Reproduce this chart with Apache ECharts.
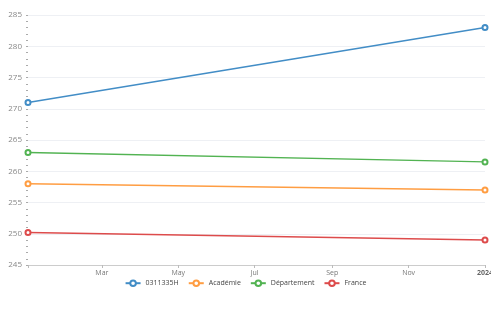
<!DOCTYPE html>
<html>
<head>
<meta charset="utf-8">
<script src="https://cdn.jsdelivr.net/npm/echarts@6/dist/echarts.min.js"></script>
<style>
  html, body { margin: 0; padding: 0; background: #fff; }
  #chart { width: 491px; height: 317px; }
</style>
</head>
<body>
<div id="chart"></div>
<script>
const dates = ['2023-01-01', '2024-01-01'];
const seriesNames = ['0311335H', 'Académie', 'Département', 'France'];
const etab = [271, 283];
const academie = [258, 257];
const departement = [263, 261.5];
const france = [250.2, 249];
const monthLabels = ['Jan', 'Feb', 'Mar', 'Apr', 'May', 'Jun', 'Jul', 'Aug', 'Sep', 'Oct', 'Nov', 'Dec'];
const colors = ['#428dc6', '#ff9d42', '#52b352', '#dd4b4b'];

const values = [etab, academie, departement, france];
const firstYear = new Date(dates[0]).getFullYear();

const chart = echarts.init(document.getElementById('chart'));

const option = {
  animation: false,
  color: colors,
  textStyle: { fontFamily: 'Open Sans' },
  grid: { left: 28, right: 6, top: 15, bottom: 52, outerBoundsMode: 'none' },
  legend: {
    bottom: 25,
    left: 'center',
    itemGap: 9,
    itemWidth: 15,
    itemHeight: 7,
    textStyle: { fontSize: 7, color: '#444' },
    data: seriesNames,
  },
  xAxis: {
    type: 'time',
    min: dates[0],
    max: dates[dates.length - 1],
    axisLine: { lineStyle: { color: '#ccc' } },
    axisTick: { show: true, length: 3, lineStyle: { color: '#bbb' } },
    axisLabel: {
      fontSize: 7,
      color: '#777',
      margin: 4,
      showMaxLabel: true,
      formatter: (value) => {
        const d = new Date(value);
        if (d.getMonth() === 0) {
          return d.getFullYear() === firstYear ? '' : `{y|${d.getFullYear()}}`;
        }
        return monthLabels[d.getMonth()];
      },
      rich: { y: { fontSize: 7, fontWeight: 'bold', color: '#666' } },
    },
    splitLine: { show: false },
  },
  yAxis: {
    type: 'value',
    min: 245,
    max: 285,
    interval: 5,
    axisLine: { show: false },
    axisTick: { show: true, length: 2, lineStyle: { color: '#aaa' } },
    minorTick: { show: true, splitNumber: 5, length: 2, lineStyle: { color: '#aaa' } },
    axisLabel: { fontSize: 8, color: '#888', margin: 6 },
    splitLine: { lineStyle: { color: '#eef0f4' } },
  },
  series: seriesNames.map((name, i) => ({
    name,
    type: 'line',
    data: dates.map((d, j) => [d, values[i][j]]),
    symbol: 'emptyCircle',
    symbolSize: 5,
    lineStyle: { width: 1.5 },
    itemStyle: { borderWidth: 1.5 },
  })),
};

chart.setOption(option);
</script>
</body>
</html>
